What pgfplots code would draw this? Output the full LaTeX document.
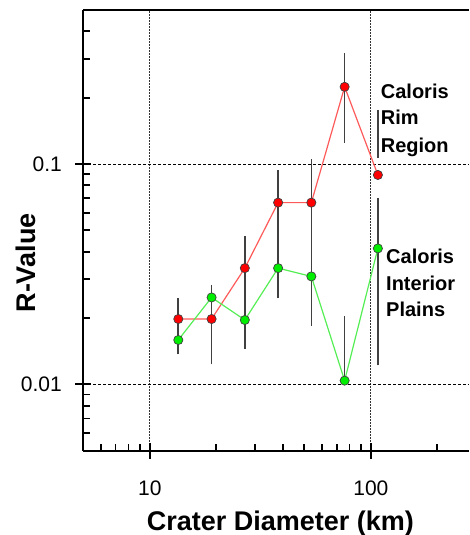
\documentclass[border=0pt]{standalone}
\usepackage{fontspec}
\setmainfont{Liberation Sans}
\usepackage{pgfplots}
\pgfplotsset{compat=1.18}
\definecolor{rimline}{HTML}{FF5A5A}
\definecolor{rimfill}{HTML}{FF0000}
\definecolor{intline}{HTML}{55EE55}
\definecolor{intfill}{HTML}{00EE00}
\definecolor{errc}{HTML}{404040}
\begin{document}
\begin{tikzpicture}
\useasboundingbox (0,0) rectangle (469pt,535pt);
\begin{axis}[
  at={(83.3pt,84.3pt)}, anchor=south west,
  scale only axis, width=385.7pt, height=440.7pt,
  xmode=log, ymode=log,
  xmin=5, xmax=278, ymin=0.005, ymax=0.5,
  axis lines=left, axis line style={-, line width=2.2pt},
  xtick={10,100}, xticklabels={10,100},
  ytick={0.01,0.1}, yticklabels={0.01,0.1},
  minor xtick={6,7,8,9,20,30,40,50,60,70,80,90,200},
  minor ytick={0.006,0.007,0.008,0.009,0.02,0.03,0.04,0.05,0.06,0.07,0.08,0.09,0.2,0.3,0.4},
  tick align=inside, major tick length=16pt, minor tick length=7pt,
  tick style={line width=1.8pt, black},
  every major x tick/.append style={yshift=-8pt},
  every major y tick/.append style={xshift=-8pt},
  xmajorgrids, ymajorgrids,
  major x grid style={black!80, line width=0.8pt, dash pattern=on 1.5pt off 1.5pt},
  major y grid style={black, line width=0.8pt, dash pattern=on 3pt off 2pt},
  xticklabel style={font=\fontsize{21}{25}\selectfont, inner sep=0pt, anchor=base, yshift=-44.3pt},
  yticklabel style={font=\fontsize{21}{25}\selectfont, inner sep=0pt, anchor=base east, xshift=-21.3pt, yshift=-7.5pt},
  xlabel={Crater Diameter (km)},
  ylabel={R-Value},
  xlabel style={font=\fontsize{27}{32}\selectfont\bfseries, inner sep=0pt, at={(rel axis cs:0.511,0)}, anchor=base, yshift=-79.3pt},
  ylabel style={font=\fontsize{27}{32}\selectfont\bfseries, inner sep=0pt, at={(rel axis cs:0,0.426)}, anchor=base, yshift=48.3pt},
  clip=false,
]
% error bars
\addplot[errc, line width=1.6pt, forget plot] coordinates {(13.45,0.01367) (13.45,0.02468)};
\addplot[errc, line width=1.6pt, forget plot] coordinates {(19.03,0.01232) (19.03,0.02835)};
\addplot[errc, line width=1.6pt, forget plot] coordinates {(26.9,0.0145) (26.9,0.0472)};
\addplot[errc, line width=1.6pt, forget plot] coordinates {(38.05,0.02458) (38.05,0.0939)};
\addplot[errc, line width=1.6pt, forget plot] coordinates {(53.8,0.01836) (53.8,0.105)};
\addplot[errc, line width=1.6pt, forget plot] coordinates {(76.1,0.1248) (76.1,0.32)};
\addplot[errc, line width=1.6pt, forget plot] coordinates {(76.1,0.0104) (76.1,0.02052)};
\addplot[errc, line width=1.6pt, forget plot] coordinates {(107.6,0.1064) (107.6,0.1755)};
\addplot[errc, line width=1.6pt, forget plot] coordinates {(107.6,0.0122) (107.6,0.0704)};
% rim
\addplot[rimline, line width=1.2pt, mark=*, mark size=4.6pt,
  mark options={fill=rimfill, draw=black!75, line width=0.7pt}]
  coordinates {(13.45,0.0198) (19.03,0.0198) (26.9,0.0337) (38.05,0.0668) (53.8,0.0668) (76.1,0.224) (107.6,0.0892)};
% interior
\addplot[intline, line width=1.2pt, mark=*, mark size=4.6pt,
  mark options={fill=intfill, draw=black!75, line width=0.7pt}]
  coordinates {(13.45,0.0159) (19.03,0.0248) (26.9,0.0196) (38.05,0.0337) (53.8,0.0309) (76.1,0.0104) (107.6,0.0414)};
\draw[line width=2.2pt] (rel axis cs:0,1) -- (rel axis cs:1,1);
\end{axis}
\begin{scope}[every node/.style={anchor=base west, inner sep=0pt, font=\fontsize{20}{24}\selectfont\bfseries}]
\node at (380.7pt,436pt) {Caloris};
\node at (380.7pt,410pt) {Rim};
\node at (380.7pt,382.7pt) {Region};
\node at (386pt,271.7pt) {Caloris};
\node at (386pt,244.3pt) {Interior};
\node at (386pt,218.3pt) {Plains};
\end{scope}
\end{tikzpicture}
\end{document}
